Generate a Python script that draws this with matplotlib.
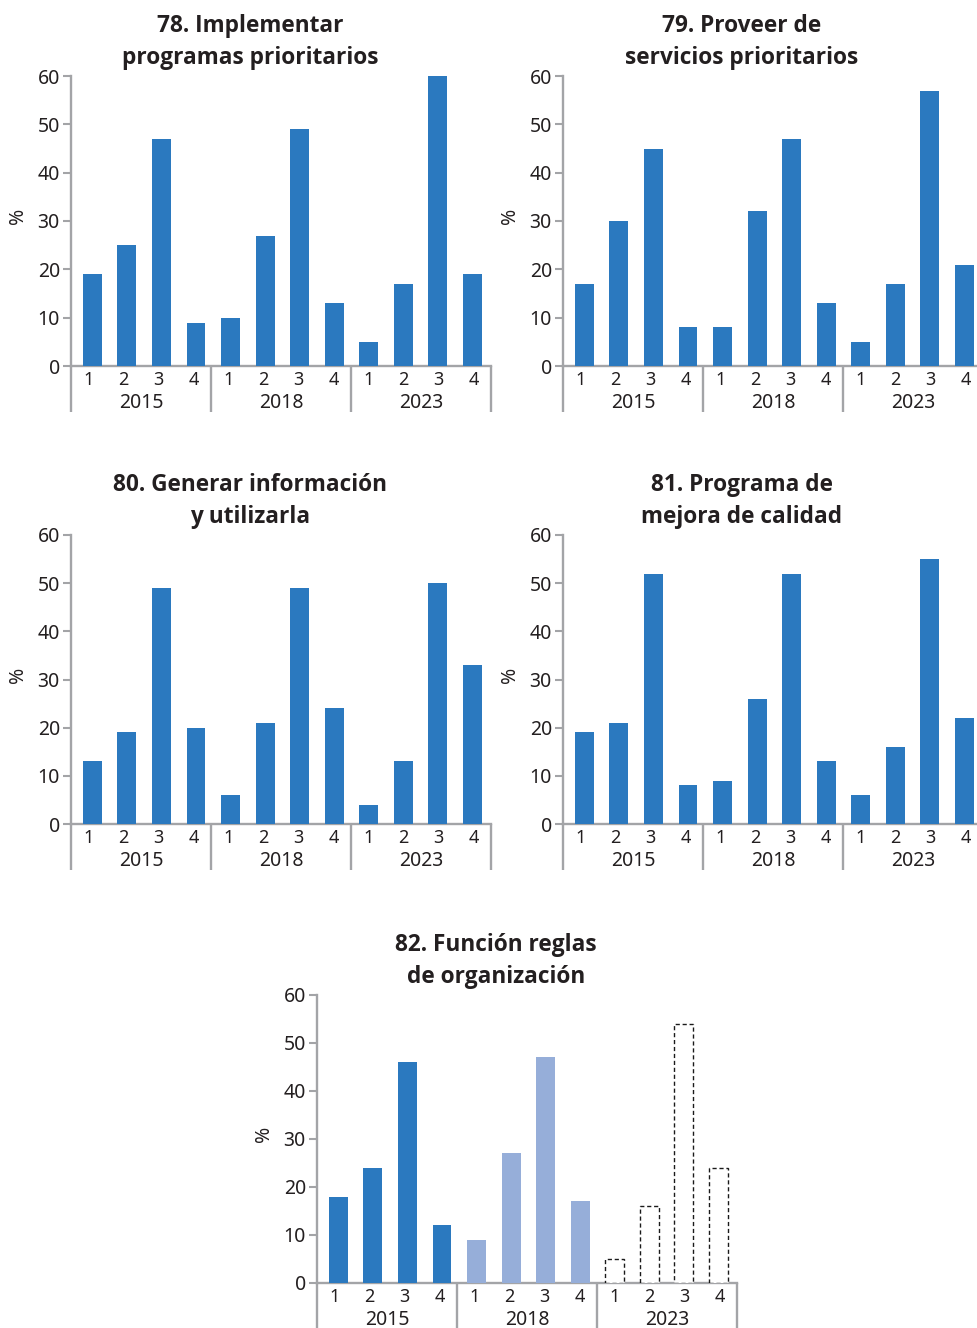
import numpy as np
import matplotlib
matplotlib.use("Agg")
import matplotlib.pyplot as plt
from matplotlib.transforms import offset_copy

plt.rcParams['font.family'] = ['Noto Sans', 'DejaVu Sans']
TITLE_FAMILY = ['Open Sans', 'DejaVu Sans']

# --- data -------------------------------------------------------------
years = ["2015", "2018", "2023"]
levels = ["1", "2", "3", "4"]

titles = [
    "78. Implementar\nprogramas prioritarios",
    "79. Proveer de\nservicios prioritarios",
    "80. Generar información\ny utilizarla",
    "81. Programa de\nmejora de calidad",
    "82. Función reglas\nde organización",
]

v78 = [19, 25, 47, 9, 10, 27, 49, 13, 5, 17, 60, 19]
v79 = [17, 30, 45, 8, 8, 32, 47, 13, 5, 17, 57, 21]
v80 = [13, 19, 49, 20, 6, 21, 49, 24, 4, 13, 50, 33]
v81 = [19, 21, 52, 8, 9, 26, 52, 13, 6, 16, 55, 22]
v82 = [18, 24, 46, 12, 9, 27, 47, 17, 5, 16, 54, 24]

y_ticks = [0, 10, 20, 30, 40, 50, 60]

# --- style ------------------------------------------------------------
W, H = 977, 1328
BLUE = "#2B79BF"
LIGHT = "#96AED9"
GRAY = "#A3A4A7"
TEXT = "#231F20"

fig = plt.figure(figsize=(W / 100, H / 100), dpi=100)


def add_panel(left_px, zero_px, top_px, title, values, styles):
    ax = fig.add_axes([left_px / W, 1 - zero_px / H, 420 / W, (zero_px - top_px) / H])
    n = len(values)
    xs = 0.11 + 0.987 * np.arange(n)
    for x, v, st in zip(xs, values, styles):
        if st == "dash":
            ax.bar(x, v, width=0.54, facecolor="white", edgecolor="#1a1a1a",
                   linewidth=1.0, linestyle=(0, (3, 2)), zorder=3)
        else:
            ax.bar(x, v, width=0.54, color=BLUE if st == "dark" else LIGHT,
                   linewidth=0, zorder=3)
    ax.set_xlim(-0.5, n - 0.5)
    ax.set_ylim(0, 60)
    for s in ("top", "right"):
        ax.spines[s].set_visible(False)
    for s in ("left", "bottom"):
        ax.spines[s].set_color(GRAY)
        ax.spines[s].set_linewidth(1.7)
    ax.set_yticks(y_ticks)
    ax.set_yticklabels([str(t) for t in y_ticks])
    ax.tick_params(axis="y", direction="out", length=6, width=1.5, color=GRAY,
                   labelsize=14, labelcolor=TEXT, pad=2)
    ax.set_xticks([])

    # separators between year groups, running below the axis
    trans = ax.get_xaxis_transform()
    depth = 46 / (zero_px - top_px)
    for g in range(len(years) + 1):
        ax.plot([g * 4 - 0.5] * 2, [0, -depth], color=GRAY, lw=1.7,
                transform=trans, clip_on=False, solid_capstyle="butt")

    lvl_tr = offset_copy(trans, fig=fig, x=0, y=-14, units="dots")
    yr_tr = offset_copy(trans, fig=fig, x=0, y=-37, units="dots")
    for i in range(n):
        ax.text(i, 0, levels[i % 4], transform=lvl_tr, ha="center", va="center",
                fontsize=13, color=TEXT)
    for g, yr in enumerate(years):
        ax.text(g * 4 + 1.5, 0, yr, transform=yr_tr, ha="center", va="center",
                fontsize=14, color=TEXT)

    fig.text((left_px - 53) / W, 1 - ((zero_px + top_px) / 2 - 5) / H, "%",
             rotation=90, ha="center", va="center", fontsize=14, color=TEXT)

    line1, line2 = title.split("\n")
    cx = (left_px + 179) / W
    fig.text(cx, 1 - (top_px - 50) / H, line1, ha="center", va="center",
             fontsize=16.3, fontweight="bold", color=TEXT, family=TITLE_FAMILY)
    fig.text(cx, 1 - (top_px - 18) / H, line2, ha="center", va="center",
             fontsize=16.3, fontweight="bold", color=TEXT, family=TITLE_FAMILY)
    return ax


solid = ["dark"] * 12
mixed = ["dark"] * 4 + ["light"] * 4 + ["dash"] * 4

add_panel(71, 366, 76, titles[0], v78, solid)
add_panel(563, 366, 76, titles[1], v79, solid)
add_panel(71, 824, 535, titles[2], v80, solid)
add_panel(563, 824, 535, titles[3], v81, solid)
add_panel(317, 1283, 995, titles[4], v82, mixed)

fig.savefig("out.png", dpi=100, facecolor="white")
